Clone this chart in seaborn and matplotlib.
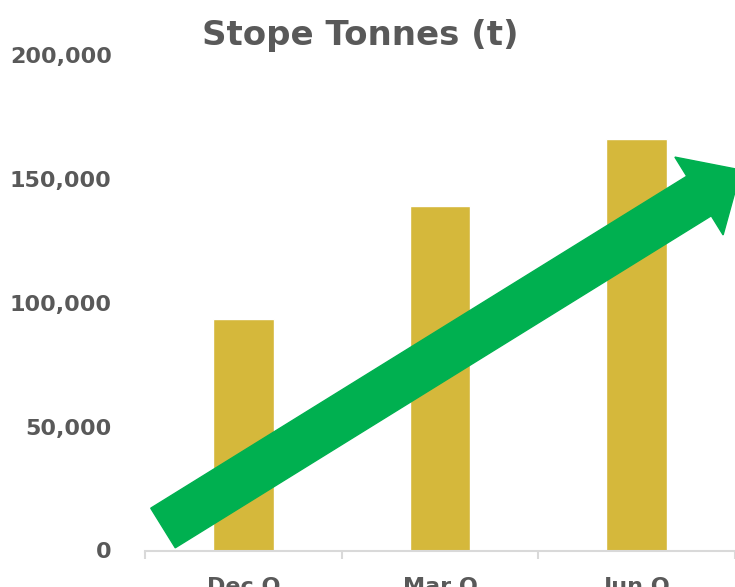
import matplotlib
matplotlib.use("Agg")
import matplotlib.pyplot as plt
import seaborn as sns
import pandas as pd
from matplotlib.patches import FancyArrow
from matplotlib.ticker import FuncFormatter, FixedLocator
from matplotlib.transforms import IdentityTransform

# Quarterly stope tonnes
quarters = ["Dec Q", "Mar Q", "Jun Q"]
tonnes = [93400, 139000, 166100]
y_ticks = [0, 50000, 100000, 150000, 200000]

BAR_COLOR = "#D5B83B"
ARROW_COLOR = "#00B050"
TEXT_COLOR = "#595959"
AXIS_COLOR = "#D9D9D9"

sns.set_theme(style="white")
plt.rcParams["font.family"] = ["DejaVu Sans"]

W, H, DPI = 735, 587, 100
fig = plt.figure(figsize=(W / DPI, H / DPI), dpi=DPI)
ax = fig.add_axes([145 / W, 1 - 550.5 / H, 590 / W, 495.5 / H])

df = pd.DataFrame({"quarter": quarters, "tonnes": tonnes})
sns.barplot(data=df, x="quarter", y="tonnes", color=BAR_COLOR, width=0.31,
            saturation=1, ax=ax)

ax.set_xlim(-0.5, len(quarters) - 0.5)
ax.set_ylim(y_ticks[0], y_ticks[-1])
ax.set_yticks(y_ticks)
ax.yaxis.set_major_formatter(FuncFormatter(lambda v, _: f"{int(v):,}"))
ax.set_xlabel("")
ax.set_ylabel("")

for s in ["top", "right", "left"]:
    ax.spines[s].set_visible(False)
ax.spines["bottom"].set_color(AXIS_COLOR)
ax.spines["bottom"].set_linewidth(1.5)

# category separators as minor ticks on the x axis
ax.xaxis.set_minor_locator(FixedLocator([i - 0.5 for i in range(len(quarters) + 1)]))
ax.tick_params(axis="x", which="minor", length=6, width=1.5, color=AXIS_COLOR, bottom=True)
ax.tick_params(axis="x", which="major", length=0, pad=19)
ax.tick_params(axis="y", length=0, pad=24)

for lbl in ax.get_xticklabels() + ax.get_yticklabels():
    lbl.set_fontsize(16)
    lbl.set_fontweight("bold")
    lbl.set_color(TEXT_COLOR)

fig.text(360 / W, 1 - 36 / H, "Stope Tonnes (t)", ha="center", va="center",
         fontsize=24.5, fontweight="bold", color=TEXT_COLOR)

# upward trend arrow, drawn in pixel space over the bars
x0, y0 = 163, H - 528
x1, y1 = 741, H - 170
arrow = FancyArrow(x0, y0, x1 - x0, y1 - y0, width=46.6, head_width=91.6,
                   head_length=49.4, length_includes_head=True,
                   color=ARROW_COLOR, transform=IdentityTransform(),
                   clip_on=False, zorder=5)
fig.patches.append(arrow)

fig.savefig("out.png", dpi=DPI)
